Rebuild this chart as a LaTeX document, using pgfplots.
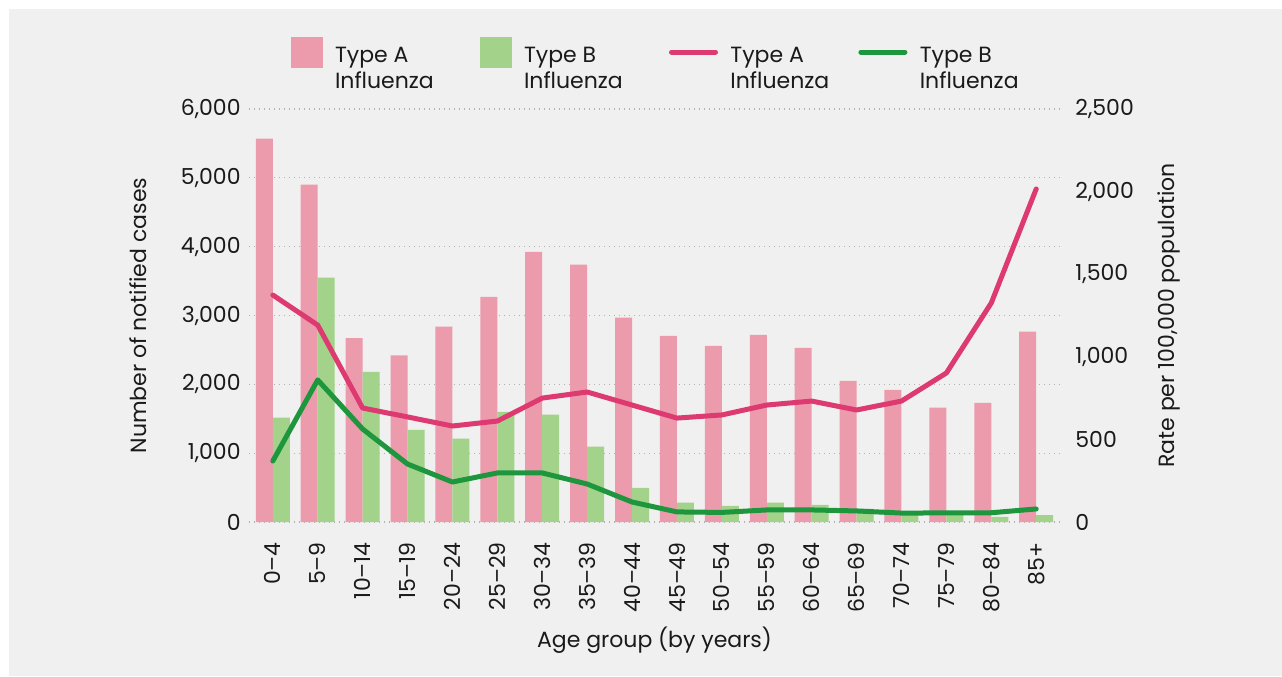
\documentclass[border=0pt]{standalone}
\usepackage{pgfplots}
\pgfplotsset{compat=1.18}
\usepackage{fontspec}
\setmainfont{Poppins}
\definecolor{bg}{RGB}{240,240,240}
\definecolor{pinkbar}{RGB}{236,155,173}
\definecolor{greenbar}{RGB}{163,210,138}
\definecolor{pinkline}{RGB}{222,58,114}
\definecolor{greenline}{RGB}{30,150,62}
\definecolor{gridc}{RGB}{178,178,178}
\definecolor{txt}{RGB}{26,26,26}
\newcommand\f{\fontsize{11}{13}\selectfont}
\newcommand\twol[1]{\begin{tabular}[t]{@{}l@{}}#1\end{tabular}}
\begin{document}
\begin{tikzpicture}
\path[use as bounding box] (0,0) rectangle (641pt,338pt);
\fill[white] (0,0) rectangle (641pt,338pt);
\fill[bg] (4.5pt,0) rectangle (641pt,333.5pt);
\begin{axis}[
  at={(124.5pt,77pt)}, anchor=south west,
  scale only axis, width=405.5pt, height=206.5pt,
  xmin=-0.53, xmax=17.53, ymin=0, ymax=6000,
  axis line style={draw=none},
  major tick length=0pt,
  tick pos=left,
  ytick={0,1000,...,6000},
  xtick={0,...,17},
  xticklabels={0–4,5–9,10–14,15–19,20–24,25–29,30–34,35–39,40–44,45–49,50–54,55–59,60–64,65–69,70–74,75–79,80–84,85+},
  /pgf/number format/1000 sep={,},
  /pgf/number format/assume math mode=true,
  ymajorgrids,
  grid style={color=gridc, line width=0.6pt, dash pattern=on 0.6pt off 1.9pt},
  tick label style={font=\f, text=txt},
  xticklabel style={rotate=90, anchor=east, inner sep=0pt},
  xticklabel shift=10pt,
  yticklabel style={inner sep=0pt, xshift=-4pt},
  label style={font=\f, text=txt},
  ylabel={Number of notified cases},
  ylabel style={at={(axis description cs:-0.137,0.5)}, anchor=center},
  xlabel={Age group (by years)},
  xlabel style={at={(axis description cs:0.5,-0.286)}, anchor=center},
  ybar, bar width=8.5pt,
  legend columns=4,
  legend style={at={(axis description cs:0.0518,1.1743)}, anchor=north west,
    draw=none, fill=none, inner sep=0pt, outer sep=0pt, font=\f, text=txt,
    cells={anchor=base west, inner sep=0pt}, column sep=0pt},
]
\addplot[fill=pinkbar, draw=none, bar shift=-4.25pt,
  legend image code/.code={\fill[pinkbar] (0pt,-3pt) rectangle (16pt,12.5pt); \path (20pt,0pt);}]
  coordinates {(0,5570) (1,4900) (2,2670) (3,2420) (4,2840) (5,3270) (6,3925) (7,3740) (8,2970) (9,2705) (10,2560) (11,2720) (12,2530) (13,2050) (14,1920) (15,1660) (16,1730) (17,2765)};
\addlegendentry{\makebox[70.5pt][l]{\twol{Type A\\Influenza}}}
\addplot[fill=greenbar, draw=none, bar shift=4.25pt,
  legend image code/.code={\fill[greenbar] (0pt,-3pt) rectangle (16pt,12.5pt); \path (20pt,0pt);}]
  coordinates {(0,1515) (1,3550) (2,2180) (3,1340) (4,1210) (5,1600) (6,1560) (7,1095) (8,495) (9,280) (10,235) (11,280) (12,250) (13,190) (14,110) (15,100) (16,75) (17,100)};
\addlegendentry{\makebox[70.5pt][l]{\twol{Type B\\Influenza}}}
\addlegendimage{legend image code/.code={\draw[pinkline, line width=2.5pt, line cap=round] (1.25pt,5pt)--(23.25pt,5pt); \path (28.5pt,0pt);}}
\addlegendentry{\makebox[62pt][l]{\twol{Type A\\Influenza}}}
\addlegendimage{legend image code/.code={\draw[greenline, line width=2.5pt, line cap=round] (1.25pt,5pt)--(23.25pt,5pt); \path (28.5pt,0pt);}}
\addlegendentry{\makebox[62pt][l]{\twol{Type B\\Influenza}}}
\end{axis}
\begin{axis}[
  at={(124.5pt,77pt)}, anchor=south west,
  scale only axis, width=405.5pt, height=206.5pt,
  xmin=-0.53, xmax=17.53, ymin=0, ymax=2500,
  axis x line=none, axis y line*=right,
  axis line style={draw=none},
  major tick length=0pt,
  ytick={0,500,...,2500},
  /pgf/number format/1000 sep={,},
  /pgf/number format/assume math mode=true,
  yticklabel style={font=\f, text=txt, inner sep=0pt, anchor=west, xshift=7.5pt},
  ylabel={Rate per 100,000 population},
  ylabel style={font=\f, text=txt, at={(axis description cs:1.135,0.5)}, anchor=center},
]
\addplot[pinkline, line width=2.5pt, line join=round, line cap=round] coordinates {(0,1374) (1,1192) (2,690) (3,636) (4,581) (5,611) (6,750) (7,787) (8,708) (9,629) (10,648) (11,708) (12,732) (13,678) (14,732) (15,902) (16,1326) (17,2016)};
\addplot[greenline, line width=2.5pt, line join=round, line cap=round] coordinates {(0,369) (1,860) (2,563) (3,351) (4,242) (5,297) (6,297) (7,230) (8,121) (9,61) (10,58) (11,73) (12,73) (13,67) (14,54) (15,55) (16,56) (17,79)};
\end{axis}
\end{tikzpicture}
\end{document}
